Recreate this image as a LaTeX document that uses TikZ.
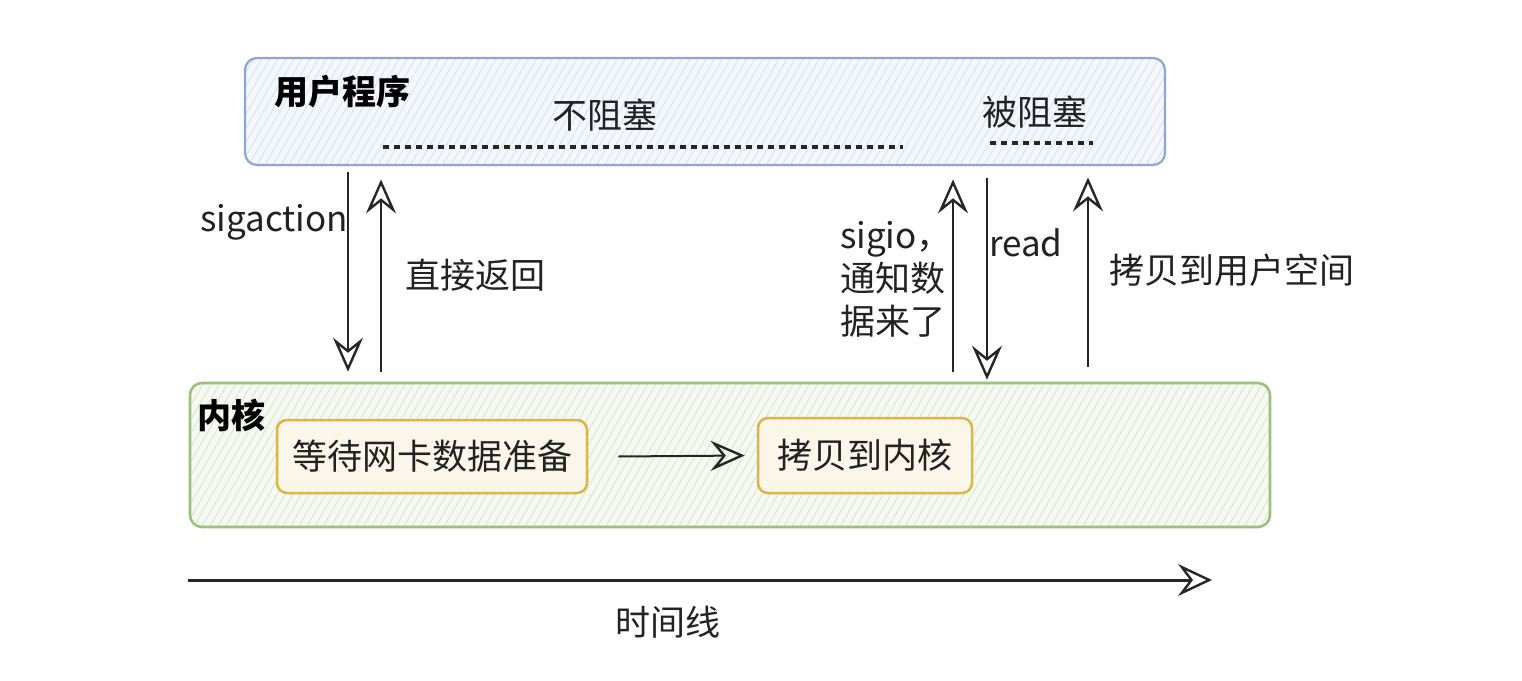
\documentclass[tikz,border=0pt]{standalone}
\usepackage{fontspec}
\setmainfont{Noto Sans CJK SC}
\usetikzlibrary{arrows.meta,patterns.meta}
\definecolor{ubd}{HTML}{8FA6D0}
\definecolor{ufill}{HTML}{F4F7FC}
\definecolor{uhatch}{HTML}{D8DFEC}
\definecolor{kbd}{HTML}{9DC07F}
\definecolor{kfill}{HTML}{F5F9F1}
\definecolor{khatch}{HTML}{D8E3CE}
\definecolor{obd}{HTML}{DDB545}
\definecolor{ofill}{HTML}{FBF6EA}
\definecolor{txt}{HTML}{222222}
\tikzset{
  big/.style={font=\fontsize{35}{42}\selectfont, text=txt, inner sep=0pt},
  bigb/.style={font=\fontsize{34}{40}\selectfont\bfseries, text=black, inner sep=0pt},
  ubox/.style={draw=ubd, line width=2.2pt, rounded corners=12pt,
    preaction={fill=ufill}, pattern={Lines[angle=60,distance=7pt,line width=0.8pt]}, pattern color=uhatch},
  kbox/.style={draw=kbd, line width=2.6pt, rounded corners=12pt,
    preaction={fill=kfill}, pattern={Lines[angle=60,distance=7pt,line width=0.8pt]}, pattern color=khatch},
  obox/.style={draw=obd, line width=2.5pt, rounded corners=10pt, fill=ofill,
    font=\fontsize{35}{42}\selectfont, text=txt},
  arr/.style={draw=black!85, line width=2pt, -{Stealth[open,length=34pt,width=30pt,inset=12pt,line width=2.4pt]}},
  dashline/.style={draw=black!85, line width=4pt, dash pattern=on 6pt off 5pt},
}
\begin{document}
\begin{tikzpicture}[x=1pt,y=-1pt]
\useasboundingbox (0,0) rectangle (1522,680);
% user program box
\node[ubox, minimum width=920pt, minimum height=107pt] (user) at (705,111.5) {};
\node[bigb, anchor=west] (ulabel) at (274,92) {用户程序};
\node[big] (nonblock) at (605,115) {不阻塞};
\node[big] (block) at (1035,112) {被阻塞};
\coordinate (d1a) at (383,147);
\coordinate (d1b) at (903,147);
\draw[dashline] (d1a) -- (d1b);
\coordinate (d2a) at (990,143);
\coordinate (d2b) at (1093,143);
\draw[dashline] (d2a) -- (d2b);
% kernel box
\node[kbox, minimum width=1080pt, minimum height=144pt] (kernel) at (730,455) {};
\node[bigb, anchor=west] (klabel) at (197,415) {内核};
\node[obox, minimum width=310pt, minimum height=73pt] (wait) at (432,456.5) {等待网卡数据准备};
\node[obox, minimum width=214pt, minimum height=75pt] (copyk) at (865,455.5) {拷贝到内核};
\draw[arr] ([xshift=30pt]wait.east) -- ([xshift=-12pt]copyk.west);
% vertical arrows
\coordinate (xa) at (348,0);
\coordinate (xb) at (381,0);
\coordinate (xc) at (953,0);
\coordinate (xd) at (987,0);
\coordinate (xe) at (1088,0);
\draw[arr] ([yshift=-7pt]user.south -| xa) -- ([yshift=10pt]kernel.north -| xa);
\draw[arr] ([yshift=10pt]kernel.north -| xb) -- ([yshift=-14pt]user.south -| xb);
\draw[arr] ([yshift=10pt]kernel.north -| xc) -- ([yshift=-14pt]user.south -| xc);
\draw[arr] ([yshift=-13pt]user.south -| xd) -- ([yshift=2pt]kernel.north -| xd);
\draw[arr] ([yshift=15pt]kernel.north -| xe) -- ([yshift=-12pt]user.south -| xe);
% labels
\node[big, anchor=west] (lsig) at (200,222) {sigaction};
\node[big, anchor=west] (lret) at (405,275) {直接返回};
\node[big, anchor=north west, align=left, font=\fontsize{35}{43}\selectfont] (lsigio) at (840,221) {sigio，\\通知数\\据来了};
\node[big, anchor=west] (lread) at (989,243) {read};
\node[big, anchor=west] (lcopyu) at (1109,270) {拷贝到用户空间};
% timeline
\coordinate (t0) at (188,580);
\coordinate (t1) at (1212,580);
\draw[draw=black!85, line width=3pt, -{Stealth[open,length=34pt,width=32pt,inset=12pt,line width=2.4pt]}] (t0) -- (t1);
\node[big] (ltime) at (668,622) {时间线};
\end{tikzpicture}
\end{document}
